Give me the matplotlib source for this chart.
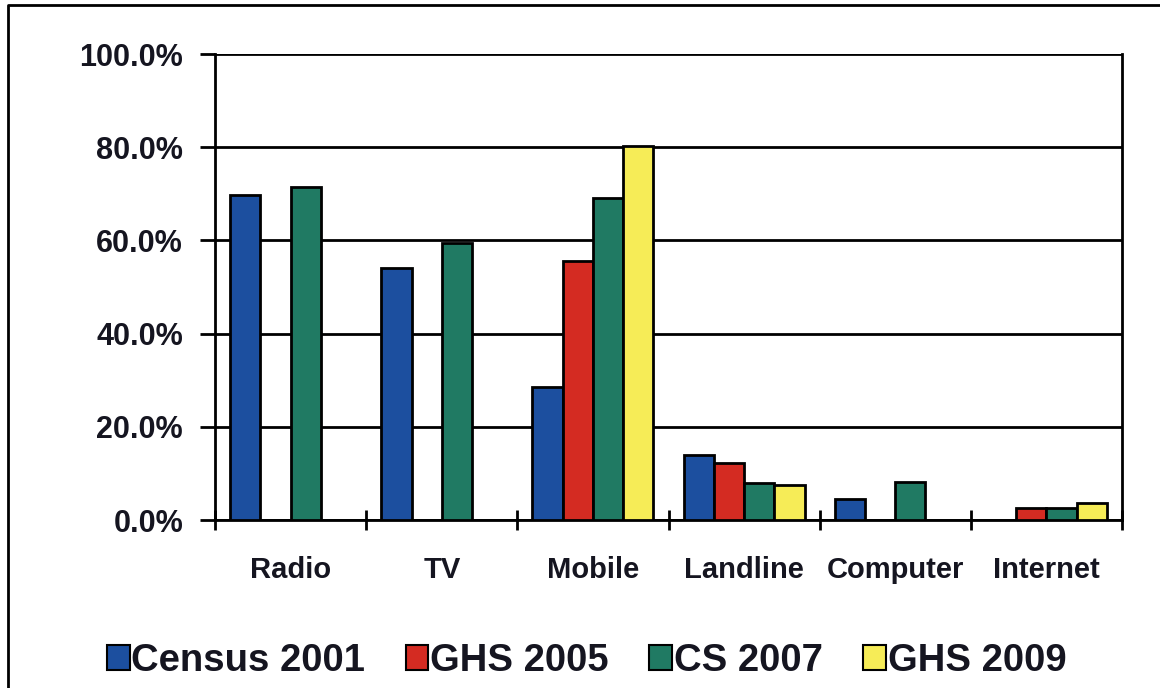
import numpy as np
import matplotlib
matplotlib.use("Agg")
import matplotlib.pyplot as plt
from matplotlib.lines import Line2D
from matplotlib.ticker import FixedLocator, FuncFormatter

categories = ["Radio", "TV", "Mobile", "Landline", "Computer", "Internet"]
series_names = ["Census 2001", "GHS 2005", "CS 2007", "GHS 2009"]
census_2001 = [69.7, 54.0, 28.6, 13.9, 4.4, np.nan]
ghs_2005 = [np.nan, np.nan, 55.6, 12.2, np.nan, 2.5]
cs_2007 = [71.4, 59.5, 69.0, 8.0, 8.2, 2.5]
ghs_2009 = [np.nan, np.nan, 80.3, 7.5, np.nan, 3.7]
y_ticks = [0, 20, 40, 60, 80, 100]

colors = ["#1c4f9f", "#d42b22", "#207a63", "#f6ec57"]
series = [census_2001, ghs_2005, cs_2007, ghs_2009]

plt.rcParams["font.family"] = ["Liberation Sans", "DejaVu Sans"]
plt.rcParams["font.weight"] = "bold"

fig = plt.figure(figsize=(11.6, 6.88), dpi=100)
ax = fig.add_axes([215 / 1160, 1 - 520 / 688, (1122 - 215) / 1160, (520 - 54) / 688])

x = np.arange(len(categories))
width = 0.2
for i, (vals, col, name) in enumerate(zip(series, colors, series_names)):
    ax.bar(x + (i - 1.5) * width, vals, width, color=col, edgecolor="black",
           linewidth=2, label=name, zorder=3)

ax.set_xlim(-0.5, len(categories) - 0.5)
ax.set_ylim(0, 100)
ax.set_axisbelow(True)
ax.yaxis.set_major_locator(FixedLocator(y_ticks))
ax.yaxis.set_major_formatter(FuncFormatter(lambda v, p: f"{v:.1f}%"))
ax.grid(axis="y", color="black", linewidth=2)

ax.set_xticks(x)
ax.set_xticklabels(categories)
ax.set_xticks(np.arange(len(categories) + 1) - 0.5, minor=True)
ax.tick_params(axis="x", which="major", length=0, pad=26, labelsize=21,
               colors="#151520")
ax.tick_params(axis="x", which="minor", direction="inout", length=14.5, width=2)
ax.tick_params(axis="y", which="major", direction="out", length=11, width=2,
               pad=12, labelsize=22, labelcolor="#151520")

for side in ["left", "right", "bottom"]:
    ax.spines[side].set_linewidth(2)
ax.spines["top"].set_visible(False)

leg = fig.legend(loc="center", bbox_to_anchor=(0.5056, 1 - 661 / 688), ncol=4,
                 frameon=False, fontsize=27.5, handlelength=0.6, handleheight=0.65,
                 handletextpad=0.05, columnspacing=1.05, borderaxespad=0,
                 labelcolor="#151520")
for h in leg.legend_handles:
    h.set_linewidth(1.5)

# page frame: left and top edges
fig.add_artist(Line2D([8 / 1160, 8 / 1160, 1.0], [0.0, 1 - 5 / 688, 1 - 5 / 688],
                      transform=fig.transFigure, color="black", linewidth=2))

fig.savefig("out.png", dpi=100, facecolor="white")
